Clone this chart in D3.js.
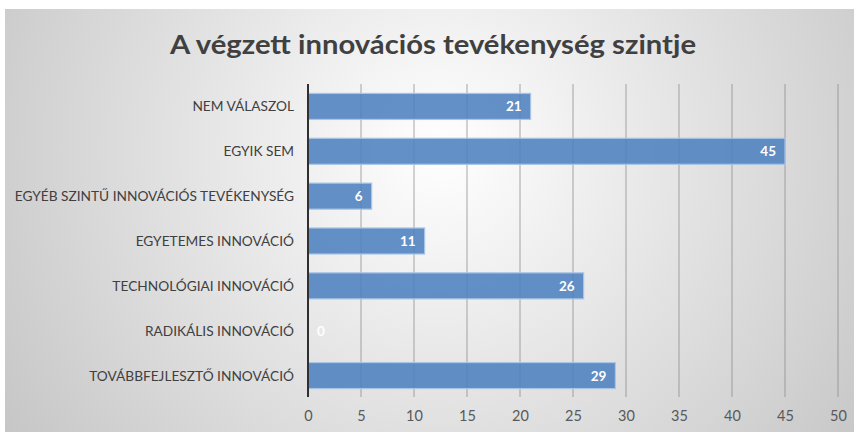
<!DOCTYPE html>
<html><head><meta charset="utf-8">
<script src="https://cdn.jsdelivr.net/npm/d3@7"></script>
<style>html,body{margin:0;padding:0;background:#fff;}svg{display:block;}</style>
</head><body>
<script>
const categories = ["NEM VÁLASZOL","EGYIK SEM","EGYÉB SZINTŰ INNOVÁCIÓS TEVÉKENYSÉG","EGYETEMES INNOVÁCIÓ","TECHNOLÓGIAI INNOVÁCIÓ","RADIKÁLIS INNOVÁCIÓ","TOVÁBBFEJLESZTŐ INNOVÁCIÓ"];
const values = [21,45,6,11,26,0,29];
const xTicks = [0,5,10,15,20,25,30,35,40,45,50];
const title = "A végzett innovációs tevékenység szintje";

const W=854,H=432;
const svg=d3.select("body").append("svg").attr("width",W).attr("height",H);
const defs=svg.append("defs");
const rg=defs.append("radialGradient").attr("id","bg").attr("gradientUnits","userSpaceOnUse")
  .attr("cx",440).attr("cy",150).attr("r",520);
rg.append("stop").attr("offset","0%").attr("stop-color","#ffffff");
rg.append("stop").attr("offset","100%").attr("stop-color","#c6c6c6");
svg.append("rect").attr("x",5).attr("y",9).attr("width",W-5).attr("height",H-9).attr("fill","url(#bg)");

const x=d3.scaleLinear().domain([0,50]).range([308,838]);
const y=d3.scaleBand().domain(categories).range([84,398]).paddingInner(0.42).paddingOuter(0.21);

const font="Lato, 'Open Sans', sans-serif";
svg.append("text").attr("x",433).attr("y",54).attr("text-anchor","middle")
  .attr("font-family",font).attr("font-weight","bold").attr("font-size",26)
  .attr("textLength",526).attr("lengthAdjust","spacingAndGlyphs")
  .attr("fill","#404040").text(title);

// gridlines
svg.append("g").selectAll("line").data(xTicks.filter(d=>d>0)).join("line")
  .attr("x1",d=>x(d)).attr("x2",d=>x(d)).attr("y1",84).attr("y2",397)
  .attr("stroke","#8a8a8a").attr("stroke-width",1).attr("opacity",0.75);

// bars
svg.append("g").selectAll("rect").data(values).join("rect")
  .attr("x",x(0)).attr("y",(d,i)=>y(categories[i]))
  .attr("width",d=>x(d)-x(0)).attr("height",y.bandwidth())
  .attr("fill","#4f81c0").attr("fill-opacity",0.88)
  .attr("stroke","#a8c4e6").attr("stroke-width",1.2);

// value labels
svg.append("g").selectAll("text").data(values).join("text")
  .attr("x",d=>d>0?x(d)-9:x(0)+9).attr("y",(d,i)=>y(categories[i])+y.bandwidth()/2+5)
  .attr("text-anchor",d=>d>0?"end":"start")
  .attr("font-family",font).attr("font-weight","bold").attr("font-size",13.5)
  .attr("fill","#ffffff").text(d=>d);

// y axis
const ya=svg.append("g").attr("transform",`translate(${x(0)},0)`)
  .call(d3.axisLeft(y).tickSize(0).tickPadding(14));
ya.select(".domain").attr("d",`M0,84V397`).attr("stroke","#303030").attr("stroke-width",2);
ya.selectAll("text").attr("font-family",font).attr("font-size",13.7).attr("fill","#404040").attr("dy","0.36em");

// x axis labels
const xa=svg.append("g").attr("transform","translate(0,397)")
  .call(d3.axisBottom(x).tickValues(xTicks).tickSize(0).tickPadding(14));
xa.select(".domain").remove();
xa.selectAll("text").attr("font-family",font).attr("font-size",14.5).attr("fill","#595959");
</script>
</body></html>
